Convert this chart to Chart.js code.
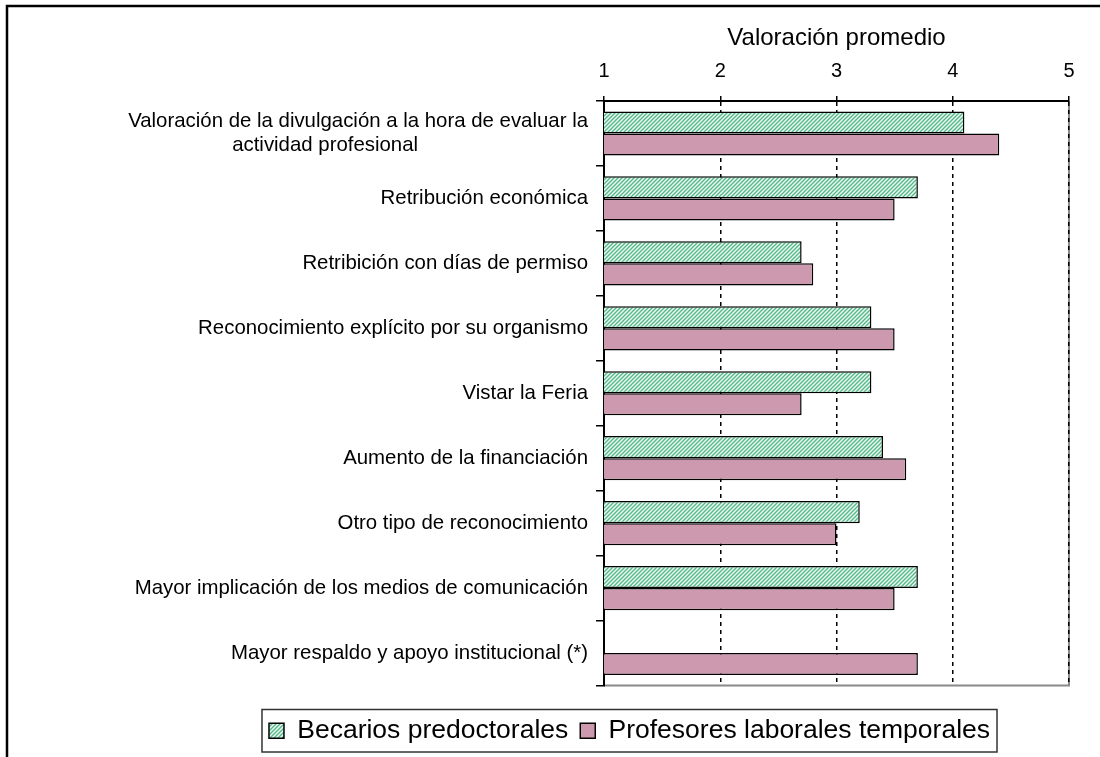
<!DOCTYPE html>
<html>
<head>
<meta charset="utf-8">
<script src="https://cdn.jsdelivr.net/npm/chart.js@4.4.1/dist/chart.umd.min.js"></script>
<style>
  html, body { margin: 0; padding: 0; background: #fff; }
  #wrap { width: 1100px; height: 757px; position: relative; }
</style>
</head>
<body>
<div id="wrap"><canvas id="chart" width="1100" height="757"></canvas></div>
<script>
// datos
const categories = [
  ['Valoración de la divulgación a la hora de evaluar la', 'actividad profesional' + '\u00a0'.repeat(30)],
  'Retribución económica',
  'Retribición con días de permiso',
  'Reconocimiento explícito por su organismo',
  'Vistar la Feria',
  'Aumento de la financiación',
  'Otro tipo de reconocimiento',
  'Mayor implicación de los medios de comunicación',
  'Mayor respaldo y apoyo institucional (*)'
];
const becarios = [4.1, 3.7, 2.7, 3.3, 3.3, 3.4, 3.2, 3.7, null];
const profesores = [4.4, 3.5, 2.8, 3.5, 2.7, 3.6, 3.0, 3.5, 3.7];
const xTicks = [1, 2, 3, 4, 5];

const FONT = "'Liberation Sans', Arial, sans-serif";

// trama rayada verde
function hatch() {
  const c = document.createElement('canvas');
  c.width = 4; c.height = 4;
  const g = c.getContext('2d');
  g.fillStyle = '#eef8f2';
  g.fillRect(0, 0, 4, 4);
  g.strokeStyle = '#4fb887';
  g.lineWidth = 1.3;
  g.beginPath();
  g.moveTo(-1, 5); g.lineTo(5, -1);
  g.moveTo(-1, 1); g.lineTo(1, -1);
  g.moveTo(3, 5); g.lineTo(5, 3);
  g.stroke();
  return g.createPattern(c, 'repeat');
}

const frame = {
  id: 'frame',
  afterLayout(chart) {
    // leyenda desplazada como en el original
    const lg = chart.legend;
    lg.left += 85;
    lg.right += 85;
    lg.top += 20;
    lg.bottom += 20;
  },
  beforeDraw(chart) {
    const ctx = chart.ctx, a = chart.chartArea;
    ctx.save();
    ctx.strokeStyle = '#000';
    ctx.lineWidth = 2.5;
    ctx.beginPath();
    ctx.moveTo(7, 757);
    ctx.lineTo(7, 6);
    ctx.lineTo(1100, 6);
    ctx.stroke();
    ctx.strokeStyle = '#8a8a8a';
    ctx.lineWidth = 2;
    ctx.beginPath();
    ctx.moveTo(a.right, a.top);
    ctx.lineTo(a.right, a.bottom);
    ctx.lineTo(a.left, a.bottom);
    ctx.stroke();
    ctx.restore();
  },
  afterDraw(chart) {
    const boxes = chart.legend.legendHitBoxes;
    if (!boxes || !boxes.length) return;
    let x0 = Infinity, x1 = -Infinity, y0 = Infinity, y1 = -Infinity;
    boxes.forEach(b => {
      x0 = Math.min(x0, b.left); x1 = Math.max(x1, b.left + b.width);
      y0 = Math.min(y0, b.top); y1 = Math.max(y1, b.top + b.height);
    });
    const ctx = chart.ctx;
    ctx.save();
    ctx.strokeStyle = '#333';
    ctx.lineWidth = 1.5;
    ctx.strokeRect(x0 - 7, y0 - 8, (x1 - x0) + 14, (y1 - y0) + 16);
    ctx.restore();
  }
};

const ctx = document.getElementById('chart').getContext('2d');
new Chart(ctx, {
  type: 'bar',
  data: {
    labels: categories,
    datasets: [{
      label: 'Becarios predoctorales',
      data: becarios,
      backgroundColor: hatch(),
      borderColor: '#000',
      borderWidth: 1.5,
      borderSkipped: false,
      categoryPercentage: 0.68,
      barPercentage: 1.0
    }, {
      label: 'Profesores laborales temporales',
      data: profesores,
      backgroundColor: '#cc99ae',
      borderColor: '#000',
      borderWidth: 1.5,
      borderSkipped: false,
      categoryPercentage: 0.68,
      barPercentage: 1.0
    }]
  },
  options: {
    indexAxis: 'y',
    responsive: false,
    animation: false,
    layout: { padding: { left: 20, top: 18, right: 31, bottom: 23 } },
    plugins: {
      tooltip: { enabled: false },
      legend: {
        position: 'bottom',
        labels: {
          color: '#000',
          font: { family: FONT, size: 26.5 },
          boxWidth: 15,
          boxHeight: 15,
          padding: 12
        }
      }
    },
    scales: {
      x: {
        position: 'top',
        min: 1,
        max: 5,
        afterBuildTicks: s => { s.ticks = xTicks.map(v => ({ value: v })); },
        afterFit: s => { s.height = 101 - 18; },
        title: {
          display: true,
          text: 'Valoración promedio',
          color: '#000',
          font: { family: FONT, size: 24 },
          padding: { top: 6, bottom: 2 }
        },
        ticks: { color: '#000', font: { family: FONT, size: 20 }, padding: 13 },
        grid: {
          color: '#000',
          lineWidth: 1.5,
          tickBorderDash: [],
          tickLength: 5,
          tickWidth: 1.5
        },
        border: { display: true, color: '#000', width: 2, dash: [4, 4] }
      },
      y: {
        afterFit: s => { s.width = 604 - 20; },
        ticks: { color: '#000', font: { family: FONT, size: 20.4 }, padding: 8 },
        grid: {
          drawOnChartArea: false,
          color: '#000',
          tickLength: 8,
          lineWidth: 1.5
        },
        border: { display: true, color: '#000', width: 2 }
      }
    }
  },
  plugins: [frame]
});
</script>
</body>
</html>
